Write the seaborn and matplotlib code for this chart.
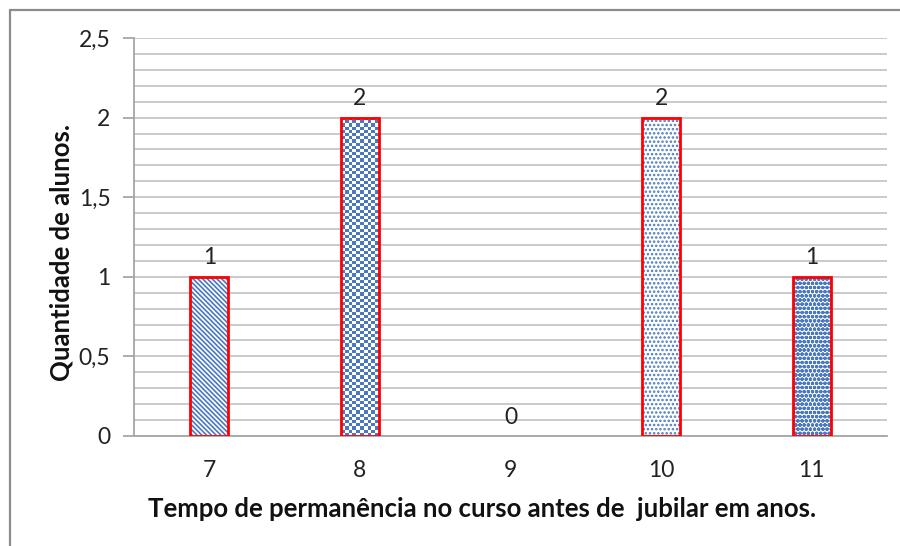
import numpy as np
import pandas as pd
import matplotlib
matplotlib.use("Agg")
import matplotlib.pyplot as plt
from matplotlib.lines import Line2D
from matplotlib.ticker import MultipleLocator, FuncFormatter
import seaborn as sns

# Data
anos = ["7", "8", "9", "10", "11"]
alunos = [1, 2, 0, 2, 1]
padroes = ["\\\\\\\\\\\\\\", None, None, "....", "oooo"]

df = pd.DataFrame({"anos": anos, "alunos": alunos})

sns.set_theme(style="white")
plt.rcParams["font.family"] = ["Lato", "DejaVu Sans"]
plt.rcParams["hatch.linewidth"] = 1.2

azul = "#4a78c2"
fig = plt.figure(figsize=(9, 5.46), dpi=100)
ax = fig.add_axes([134 / 900, 110 / 546, (887 - 134) / 900, (436 - 38) / 546])

# Patterned fill (hatch drawn in blue)
sns.barplot(data=df, x="anos", y="alunos", ax=ax, width=0.25,
            color="white", edgecolor=azul, linewidth=0, saturation=1,
            errorbar=None, zorder=2)
fill_patches = list(ax.patches)
for p, h in zip(fill_patches, padroes):
    p.set_facecolor("white")
    if h:
        p.set_hatch(h)

# Checkerboard texture for the "8" bar, clipped to its patch
p8 = fill_patches[1]
x0, w = p8.get_x(), p8.get_width()
y0, hgt = p8.get_y(), p8.get_height()
nx, ny = 10, 100
checker = (np.add.outer(np.arange(ny), np.arange(nx)) % 2).astype(float)
cmap = matplotlib.colors.ListedColormap(["white", azul])
im = ax.imshow(checker, cmap=cmap, extent=[x0, x0 + w, y0, y0 + hgt],
               aspect="auto", interpolation="nearest", zorder=2.1, origin="lower")
im.set_clip_path(p8)

# Red outlines
n_before = len(ax.patches)
sns.barplot(data=df, x="anos", y="alunos", ax=ax, width=0.25, fill=False,
            edgecolor="#ff0000", linewidth=2, errorbar=None, zorder=3)
for p in ax.patches[n_before:]:
    if p.get_height() == 0:
        p.set_linewidth(0)

ax.set_xlim(-0.5, len(anos) - 0.5)
ax.set_ylim(0, 2.5)

# Grid
ax.yaxis.set_major_locator(MultipleLocator(0.5))
ax.yaxis.set_minor_locator(MultipleLocator(0.1))
ax.yaxis.set_major_formatter(FuncFormatter(lambda v, _: f"{v:g}".replace(".", ",")))
ax.grid(True, which="both", axis="y", color="#c6c6c6", linewidth=1.3, zorder=0)
ax.set_axisbelow(True)

for s in ["top", "right"]:
    ax.spines[s].set_visible(False)
ax.spines["left"].set_color("#a6a6a6")
ax.spines["left"].set_linewidth(1.3)
ax.spines["bottom"].set_color("#a6a6a6")
ax.spines["bottom"].set_linewidth(1.3)

ax.tick_params(axis="y", which="major", left=True, length=8, width=1.3,
               color="#a6a6a6", labelsize=16.5, pad=9, labelcolor="#222222")
ax.tick_params(axis="y", which="minor", left=False)
ax.tick_params(axis="x", bottom=False, labelsize=16.5, pad=11, labelcolor="#222222")

# Value labels
for i, v in enumerate(alunos):
    ax.annotate(str(v), (i, v), xytext=(0, 6), textcoords="offset points",
                ha="center", va="bottom", fontsize=16.5, color="#222222")

ax.set_xlabel("Tempo de permanência no curso antes de  jubilar em anos.",
              fontsize=18.5, fontweight="bold", labelpad=12, color="#111111")
ax.set_ylabel("Quantidade de alunos.", fontsize=18.5, fontweight="bold",
              labelpad=4, color="#111111")
ax.xaxis.label.set_x(0.462)
ax.yaxis.label.set_y(0.46)

# Chart frame
fig.add_artist(Line2D([10 / 900, 1], [1 - 10 / 546, 1 - 10 / 546],
                      transform=fig.transFigure, color="#8c8c8c", linewidth=1.6))
fig.add_artist(Line2D([10 / 900, 10 / 900], [0, 1 - 10 / 546],
                      transform=fig.transFigure, color="#8c8c8c", linewidth=1.6))

fig.savefig("out.png", dpi=100, facecolor="white")
